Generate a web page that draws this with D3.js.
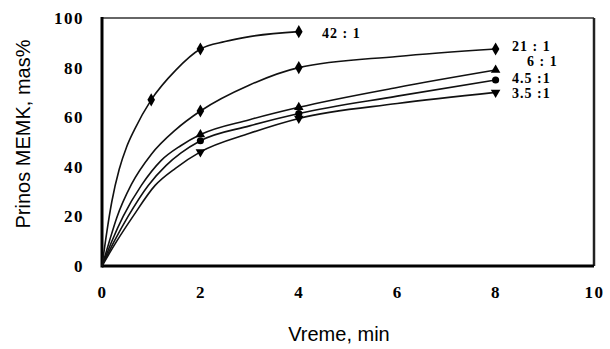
<!DOCTYPE html>
<html>
<head>
<meta charset="utf-8">
<script src="https://cdn.jsdelivr.net/npm/d3@7"></script>
<style>
	body { margin: 0; background: #fff; }
	.tick text { font-family: "Liberation Serif", "DejaVu Serif", serif; font-weight: bold; font-size: 17px; letter-spacing: 1.5px; }
	.title { font-family: "Liberation Sans", Arial, sans-serif; font-size: 20px; }
	.lbl { font-family: "Liberation Serif", serif; font-weight: bold; font-size: 14px; letter-spacing: 1px; }
</style>
</head>
<body>
<script>
var xTicks = [0, 2, 4, 6, 8, 10];
var yTicks = [0, 20, 40, 60, 80, 100];
var seriesNames = ["42 : 1", "21 : 1", "6 : 1", "4.5 :1", "3.5 :1"];
var times42 = [1, 2, 4];
var yield42 = [67, 87.5, 94.5];
var times21 = [2, 4, 8];
var yield21 = [62.5, 80, 87.5];
var times6 = [2, 4, 8];
var yield6 = [53, 64, 79];
var times45 = [2, 4, 8];
var yield45 = [50.5, 61.5, 75];
var times35 = [2, 4, 8];
var yield35 = [46, 59.5, 70];
var markers = ["diamond", "diamond", "triangle", "circle", "triangleDown"];

// Fitted curves
var fitT42 = [0, 0.1, 0.2, 0.35, 0.5, 0.66, 1, 1.5, 2, 2.5, 3, 4];
var fit42 = [0, 14, 26, 39, 48, 55, 67, 79, 87.5, 90.5, 92.5, 94.5];
var fitT21 = [0, 0.15, 0.3, 0.6, 1, 1.5, 2, 3, 4, 6, 8];
var fit21 = [0, 10, 19.5, 33, 45, 55, 62.5, 73, 80, 84.5, 87.5];
var fitT6 = [0, 0.2, 0.43, 0.8, 1.2, 1.6, 2, 3, 4, 6, 8];
var fit6 = [0, 10, 20, 32.5, 42.5, 48.5, 53, 59, 64, 72, 79];
var fitT45 = [0, 0.25, 0.53, 0.94, 1.3, 1.6, 2, 3, 4, 6, 8];
var fit45 = [0, 10, 20, 32.5, 40.5, 45.5, 50.5, 56.5, 61.5, 68.5, 75];
var fitT35 = [0, 0.3, 0.63, 1.08, 1.5, 2, 3, 4, 6, 8];
var fit35 = [0, 10, 20, 32.5, 39.5, 46, 53.5, 59.5, 65.5, 70];

// Define margins
var margin = {top: 18, right: 16, bottom: 83, left: 102};
var outer_width = 610;
var outer_height = 349;
var w = outer_width - margin.left - margin.right;
var h = outer_height - margin.top - margin.bottom;

var svg = d3.select("body")
	.append("svg")
	.attr("width", outer_width)
	.attr("height", outer_height)
	.append("g")
	.attr("transform", "translate(" + margin.left + "," + margin.top + ")");

var xScale = d3.scaleLinear().domain([0, 10]).range([0, w]);
var yScale = d3.scaleLinear().domain([0, 100]).range([h, 0]);

// Axes (no visible tick marks, only labels)
var xAxis = d3.axisBottom(xScale).tickValues(xTicks).tickSize(0).tickPadding(20);
var yAxis = d3.axisLeft(yScale).tickValues(yTicks).tickSize(0).tickPadding(18);

svg.append("g").attr("transform", "translate(0," + h + ")").call(xAxis)
	.call(function(g) { g.select(".domain").remove(); });
svg.append("g").call(yAxis)
	.call(function(g) { g.select(".domain").remove(); });

// Frame: heavy left/bottom, lighter top/right
svg.append("line").attr("x1", 0).attr("x2", w).attr("y1", 0).attr("y2", 0)
	.attr("stroke", "#333").attr("stroke-width", 1.5);
svg.append("line").attr("x1", w).attr("x2", w).attr("y1", 0).attr("y2", h)
	.attr("stroke", "#222").attr("stroke-width", 2.5);
svg.append("line").attr("x1", 0).attr("x2", 0).attr("y1", -1).attr("y2", h + 1.5)
	.attr("stroke", "#000").attr("stroke-width", 3);
svg.append("line").attr("x1", 0).attr("x2", w).attr("y1", h).attr("y2", h)
	.attr("stroke", "#000").attr("stroke-width", 3);

var series = [
	{x: times42, y: yield42, ft: fitT42, fy: fit42, marker: markers[0]},
	{x: times21, y: yield21, ft: fitT21, fy: fit21, marker: markers[1]},
	{x: times6, y: yield6, ft: fitT6, fy: fit6, marker: markers[2]},
	{x: times45, y: yield45, ft: fitT45, fy: fit45, marker: markers[3]},
	{x: times35, y: yield35, ft: fitT35, fy: fit35, marker: markers[4]}
];

var line = d3.line()
	.x(function(d) { return xScale(d[0]); })
	.y(function(d) { return yScale(d[1]); })
	.curve(d3.curveMonotoneX);

var symbolTypes = {
	diamond: d3.symbolDiamond,
	circle: d3.symbolCircle,
	triangle: d3.symbolTriangle,
	triangleDown: d3.symbolTriangle
};

series.forEach(function(s) {
	var curvePts = s.ft.map(function(t, i) { return [t, s.fy[i]]; });
	svg.append("path")
		.datum(curvePts)
		.attr("d", line)
		.attr("fill", "none")
		.attr("stroke", "#111")
		.attr("stroke-width", 1.6);

	var pts = s.x.map(function(t, i) { return [t, s.y[i]]; });
	svg.selectAll(null)
		.data(pts)
		.enter()
		.append("path")
		.attr("d", d3.symbol().type(symbolTypes[s.marker]).size(s.marker == "diamond" ? 50 : 40))
		.attr("transform", function(d) {
			var rot = s.marker == "triangleDown" ? " rotate(180)" : "";
			return "translate(" + xScale(d[0]) + "," + yScale(d[1]) + ")" + rot;
		})
		.attr("fill", "#000");
});

// Series labels
var labelPos = [[220, 20], [410, 33], [425, 48], [410, 65], [410, 80]];
svg.selectAll(".lbl")
	.data(seriesNames)
	.enter()
	.append("text")
	.attr("class", "lbl")
	.attr("x", function(d, i) { return labelPos[i][0]; })
	.attr("y", function(d, i) { return labelPos[i][1]; })
	.text(function(d) { return d; });

// Axis titles
svg.append("text").attr("class", "title")
	.attr("x", 237).attr("y", h + 75)
	.attr("text-anchor", "middle")
	.text("Vreme, min");
svg.append("text").attr("class", "title")
	.attr("transform", "translate(-72,116) rotate(-90)")
	.attr("text-anchor", "middle")
	.text("Prinos MEMK, mas%");
</script>
</body>
</html>
